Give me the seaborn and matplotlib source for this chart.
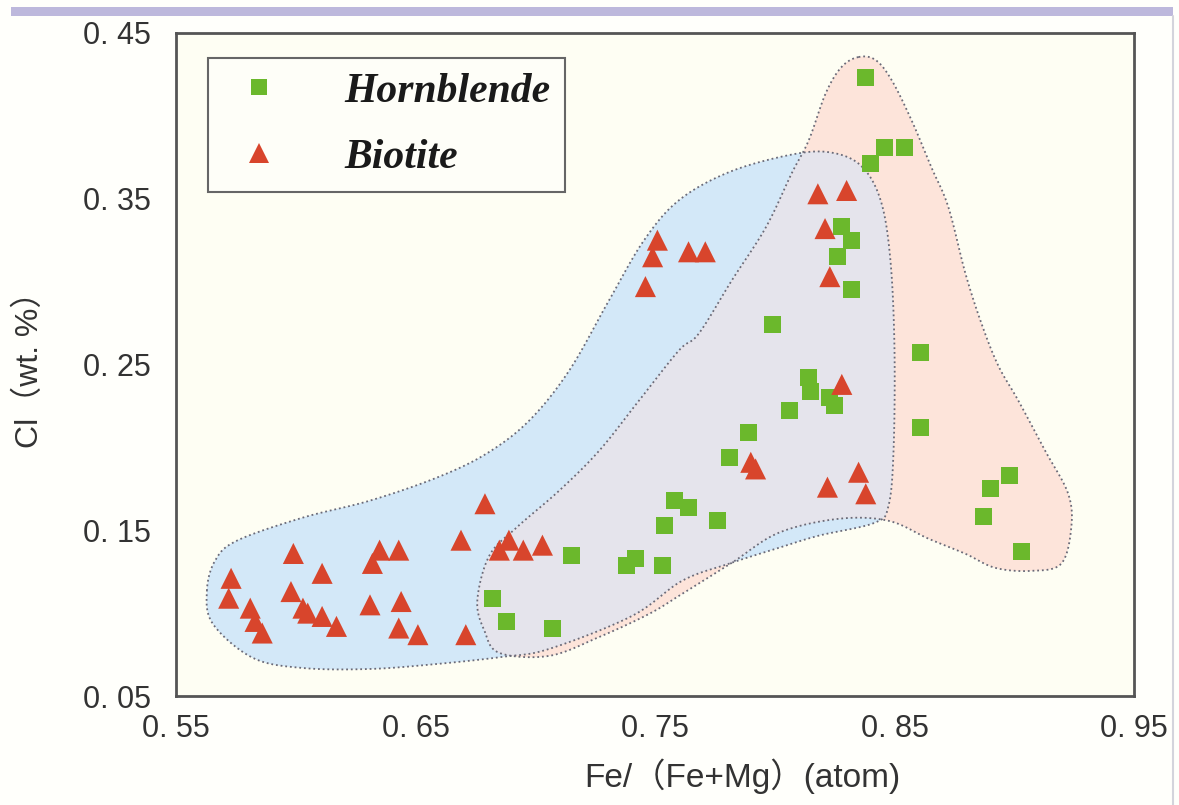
import numpy as np
import pandas as pd
import matplotlib
matplotlib.use("Agg")
import matplotlib.pyplot as plt
from matplotlib.patches import Polygon, Rectangle
from matplotlib.lines import Line2D
import seaborn as sns

# ---------------- data ----------------
hb_x = [0.838, 0.846, 0.854, 0.840, 0.828, 0.832, 0.826, 0.832, 0.799, 0.861, 0.814,
        0.815, 0.823, 0.825, 0.806, 0.861, 0.789, 0.781, 0.898, 0.890, 0.887, 0.903,
        0.758, 0.764, 0.776, 0.754, 0.715, 0.738, 0.742, 0.753, 0.682, 0.688, 0.707]
hb_y = [0.423, 0.381, 0.381, 0.371, 0.333, 0.325, 0.315, 0.295, 0.274, 0.257, 0.242,
        0.234, 0.230, 0.225, 0.222, 0.212, 0.209, 0.194, 0.183, 0.175, 0.158, 0.137,
        0.168, 0.164, 0.156, 0.153, 0.135, 0.129, 0.133, 0.129, 0.109, 0.095, 0.091]

bi_x = [0.818, 0.830, 0.821, 0.823, 0.751, 0.749, 0.746, 0.764, 0.771, 0.828, 0.835,
        0.822, 0.838, 0.790, 0.792,
        0.573, 0.572, 0.581, 0.583, 0.586, 0.599, 0.598, 0.603, 0.605, 0.611, 0.611,
        0.617, 0.632, 0.635, 0.643, 0.631, 0.644, 0.643, 0.651, 0.669, 0.671, 0.679,
        0.685, 0.689, 0.695, 0.703]
bi_y = [0.353, 0.355, 0.332, 0.303, 0.325, 0.315, 0.297, 0.318, 0.318, 0.238, 0.185,
        0.176, 0.172, 0.191, 0.187,
        0.121, 0.109, 0.103, 0.095, 0.088, 0.136, 0.113, 0.103, 0.100, 0.124, 0.098,
        0.092, 0.130, 0.138, 0.138, 0.105, 0.107, 0.091, 0.087, 0.144, 0.087, 0.166,
        0.138, 0.144, 0.138, 0.141]

series_names = ["Hornblende", "Biotite"]

# field outlines (data coordinates)
blue_x = [0.5629, 0.5663, 0.5754, 0.6029, 0.6308, 0.6588, 0.6796, 0.6975, 0.7142, 0.7308,
          0.7454, 0.7600, 0.7808, 0.8058, 0.8225, 0.8358, 0.8442, 0.8483, 0.8500, 0.8496,
          0.8475, 0.8417, 0.8183, 0.8017, 0.7808, 0.7613, 0.7404, 0.7058, 0.6863, 0.6588,
          0.6308, 0.6029, 0.5821, 0.5654]
blue_y = [0.1134, 0.1316, 0.1437, 0.1576, 0.1678, 0.1817, 0.1962, 0.2162, 0.2464, 0.2887,
          0.3249, 0.3491, 0.3660, 0.3763, 0.3781, 0.3702, 0.3491, 0.3128, 0.2585, 0.1980,
          0.1648, 0.1545, 0.1467, 0.1394, 0.1298, 0.1195, 0.0983, 0.0784, 0.0736, 0.0693,
          0.0663, 0.0669, 0.0730, 0.0935]
orange_x = [0.8350, 0.8421, 0.8488, 0.8571, 0.8654, 0.8725, 0.8796, 0.8863, 0.8933, 0.9017,
            0.9129, 0.9225, 0.9238, 0.9196, 0.9071, 0.8921, 0.8796, 0.8642, 0.8475, 0.8267,
            0.8017, 0.7821, 0.7613, 0.7475, 0.7267, 0.7058, 0.6850, 0.6788, 0.6758, 0.6808,
            0.6921, 0.7100, 0.7267, 0.7433, 0.7600, 0.7683, 0.7821, 0.7963, 0.8071, 0.8142,
            0.8213, 0.8279]
orange_y = [0.4355, 0.4337, 0.4216, 0.3974, 0.3690, 0.3449, 0.3050, 0.2748, 0.2494, 0.2282,
            0.1980, 0.1721, 0.1515, 0.1298, 0.1255, 0.1273, 0.1358, 0.1449, 0.1557, 0.1569,
            0.1485, 0.1304, 0.1116, 0.0995, 0.0856, 0.0742, 0.0760, 0.0893, 0.1074, 0.1346,
            0.1515, 0.1739, 0.1980, 0.2282, 0.2585, 0.2687, 0.3008, 0.3328, 0.3654, 0.3853,
            0.4137, 0.4295]

x_ticks = [0.55, 0.60, 0.65, 0.70, 0.75, 0.80, 0.85, 0.90, 0.95]
x_tick_labels = ["0. 55", "", "0. 65", "", "0. 75", "", "0. 85", "", "0. 95"]
y_ticks = [0.05, 0.10, 0.15, 0.20, 0.25, 0.30, 0.35, 0.40, 0.45]
y_tick_labels = ["0. 05", "", "0. 15", "", "0. 25", "", "0. 35", "", "0. 45"]

x_label = "Fe/（Fe+Mg）(atom)"
y_label = "Cl（wt. %）"

df = pd.DataFrame({
    "x": hb_x + bi_x,
    "y": hb_y + bi_y,
    "mineral": [series_names[0]] * len(hb_x) + [series_names[1]] * len(bi_x),
})

# ---------------- style ----------------
sns.set_theme(style="white")
sans = ["Liberation Sans", "Noto Sans CJK SC", "DejaVu Sans"]
plt.rcParams["font.family"] = sans

GREEN = "#6bb82c"
RED = "#d8452c"
BLUE_FILL = "#d3e8f8"
ORANGE_FILL = "#fde4da"
OVERLAP_FILL = "#e5e4ec"
BG = "#fefef3"

fig = plt.figure(figsize=(11.79, 8.05), dpi=100, facecolor="#fffffb")
ax = fig.add_axes([176 / 1179, 1 - 696 / 805, 958 / 1179, 663 / 805])
ax.set_facecolor(BG)


def smooth_closed(xs, ys, n=14):
    pts = np.column_stack([xs, ys])
    N = len(pts)
    t = np.linspace(0, 1, n, endpoint=False)[:, None]
    out = []
    for i in range(N):
        p0, p1, p2, p3 = pts[(i - 1) % N], pts[i], pts[(i + 1) % N], pts[(i + 2) % N]
        out.append(0.5 * (2 * p1 + (-p0 + p2) * t + (2 * p0 - 5 * p1 + 4 * p2 - p3) * t ** 2
                          + (-p0 + 3 * p1 - 3 * p2 + p3) * t ** 3))
    return np.vstack(out)


blue_pts = smooth_closed(blue_x, blue_y)
orange_pts = smooth_closed(orange_x, orange_y)

blue_patch = Polygon(blue_pts, closed=True, facecolor=BLUE_FILL, edgecolor="none", zorder=1)
orange_patch = Polygon(orange_pts, closed=True, facecolor=ORANGE_FILL, edgecolor="none", zorder=1)
ax.add_patch(blue_patch)
ax.add_patch(orange_patch)
overlap = Polygon(orange_pts, closed=True, facecolor=OVERLAP_FILL, edgecolor="none", zorder=1.5)
ax.add_patch(overlap)
overlap.set_clip_path(blue_patch)

for pts in (blue_pts, orange_pts):
    ax.add_patch(Polygon(pts, closed=True, facecolor="none", edgecolor="#6a6a78",
                         linewidth=1.3, linestyle=(0, (1, 1.6)), zorder=2))

sns.scatterplot(data=df, x="x", y="y", hue="mineral", style="mineral",
                palette={series_names[0]: GREEN, series_names[1]: RED},
                markers={series_names[0]: "s", series_names[1]: "^"},
                size="mineral", sizes={series_names[0]: 150, series_names[1]: 230},
                linewidth=0, legend=False, ax=ax, zorder=3)

ax.set_xlim(0.55, 0.95)
ax.set_ylim(0.05, 0.45)
ax.set_xticks(x_ticks)
ax.set_xticklabels(x_tick_labels)
ax.set_yticks(y_ticks)
ax.set_yticklabels(y_tick_labels)
ax.tick_params(axis="both", direction="in", length=5, width=1, color="#777777",
               labelsize=22, labelcolor="#333333")
ax.tick_params(axis="x", pad=13)
ax.tick_params(axis="y", pad=18)

for s in ax.spines.values():
    s.set_visible(True)
    s.set_color("#555555")
    s.set_linewidth(2.0)

ax.set_xlabel("")
ax.set_ylabel("")
fig.text(742 / 1179, 1 - 776 / 805, x_label, fontsize=24, color="#333333",
         ha="center", va="center")
fig.text(30 / 1179, 1 - 362 / 805, y_label, fontsize=23, color="#333333",
         ha="center", va="center", rotation=90)

handles = [
    Line2D([], [], linestyle="none", marker="s", markersize=12, color=GREEN, markeredgewidth=0),
    Line2D([], [], linestyle="none", marker="^", markersize=15, color=RED, markeredgewidth=0),
]
leg = ax.legend(handles, series_names, loc="upper left", bbox_to_anchor=(0.033, 0.962),
                borderaxespad=0, frameon=True, fancybox=False, handlelength=1.79,
                handletextpad=1.14, borderpad=0.35, labelspacing=0.67,
                prop={"family": "Liberation Serif", "weight": "bold", "style": "italic", "size": 30})
frame = leg.get_frame()
frame.set_edgecolor("#666666")
frame.set_linewidth(1.5)
frame.set_facecolor("#fefef8")
frame.set_alpha(1)
for t in leg.get_texts():
    t.set_color("#1a1a1a")

# decorative page band and right edge
fig.add_artist(Rectangle((11 / 1179, 1 - 16 / 805), (1173 - 11) / 1179, 9 / 805,
                         transform=fig.transFigure, facecolor="#bdb8dc", edgecolor="none"))
fig.add_artist(Line2D([1173 / 1179, 1173 / 1179], [0, 1 - 16 / 805], transform=fig.transFigure,
                      color="#d4d4dc", linewidth=1.5))

fig.savefig("out.png", dpi=100, facecolor=fig.get_facecolor())
